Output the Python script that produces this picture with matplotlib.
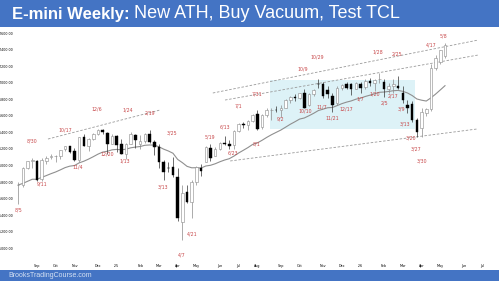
import matplotlib
matplotlib.use('Agg')
import matplotlib.pyplot as plt
import numpy as np
import pandas as pd

# ---------------- data (weekly E-mini, continuous contract) ----------------
start_week = '2024-08-05'
opens  = [5760,5760,5970,6055,6060,5840,6050,6100,6120,6120,6200,6230,6170,6070,6340,6240,6320,6380,6430,6395,
          6265,6355,6255,6145,6265,6365,6265,6295,6385,6285,6225,6045,5975,5985,5865,5315,5685,5555,5805,5965,
          6045,6215,6115,6195,6275,6265,6245,6415,6505,6495,6535,6625,6465,6605,6675,6675,6665,6700,6790,6830,
          6820,6880,6730,6860,6990,6990,6910,6840,6750,6940,6990,6980,6930,6990,6950,7020,7000,7040,7010,6920,
          6960,6960,6880,6730,6740,6550,6450,6640,6680,7180,7250,7320]
highs  = [5800,5980,6060,6090,6070,6090,6110,6140,6130,6190,6240,6240,6210,6350,6380,6330,6390,6440,6440,6405,
          6375,6365,6315,6275,6405,6375,6365,6395,6431,6305,6255,6065,6045,6105,5965,5765,5765,5825,5995,6015,
          6235,6255,6225,6285,6355,6305,6425,6515,6525,6555,6625,6675,6625,6700,6700,6715,6735,6800,6840,6860,
          6880,6930,6880,6920,7040,7010,6960,6880,6960,6990,7010,7000,7010,7010,7040,7060,7040,7120,7040,7000,
          7050,7080,6960,6790,6780,6580,6700,6700,7230,7330,7400,7480]
lows   = [5530,5740,5960,5970,5810,5810,6020,6080,6040,6080,6170,6150,6050,6040,6230,6180,6310,6370,6380,6135,
          6255,6165,6145,6075,6255,6215,6195,6275,6275,6125,5965,5825,5925,5865,5325,5097,5545,5365,5765,5875,
          6045,6055,6115,6185,6245,6205,6205,6405,6455,6435,6525,6425,6445,6590,6555,6645,6585,6690,6760,6780,
          6800,6690,6720,6840,6940,6820,6820,6650,6730,6910,6920,6850,6920,6880,6930,6960,6900,7000,6830,6880,
          6880,6920,6760,6640,6520,6350,6340,6600,6660,7150,7230,7300]
closes = [5760,5970,6050,6070,5830,6070,6090,6120,6120,6190,6230,6160,6070,6340,6240,6320,6380,6430,6400,6265,
          6355,6245,6145,6265,6375,6305,6295,6385,6285,6225,6045,5925,5965,5885,5365,5665,5565,5805,5985,5935,
          6225,6085,6195,6275,6265,6235,6415,6505,6495,6535,6615,6445,6605,6675,6675,6670,6695,6790,6830,6820,
          6870,6700,6860,6910,6980,6840,6860,6730,6940,6970,6940,6920,7000,6940,7020,7000,7030,7050,6920,6960,
          6990,6940,6790,6690,6550,6410,6650,6680,7180,7300,7390,7450]
ema_seed = 5765

y_ticks = [5000,5200,5400,5600,5800,6000,6200,6400,6600,6800,7000,7200,7400,7600]
month_labels = ['Sep','Oct','Nov','Dec',"'25",'Feb','Mar','Apr','May','Jun','Jul','Aug',
                'Sep','Oct','Nov','Dec',"'26",'Feb','Mar','Apr','May','Jun','Jul']
month_weeks = ['2024-09-02','2024-09-30','2024-10-28','2024-12-02','2024-12-30','2025-02-03',
               '2025-03-03','2025-03-31','2025-04-28','2025-06-02','2025-06-30','2025-07-28',
               '2025-09-01','2025-09-29','2025-11-03','2025-12-01','2025-12-29','2026-02-02',
               '2026-03-02','2026-03-30','2026-04-27','2026-06-01','2026-06-29']

# swing labels: text, week index, price
label_text  = ['8/5','8/30','9/11','10/17','11/4','12/6','12/20','1/13','1/24','2/19','3/13','3/25',
               '4/7','4/21','5/19','6/13','6/23','7/1','7/31','8/1','9/2','10/9','10/10','10/29',
               '11/7','11/21','12/17','1/7','1/20','1/28','2/5','2/17','2/25','3/9','3/13','3/20',
               '3/27','3/30','4/17','5/8']
label_week  = [0.0,2.9,5.1,10.0,12.8,16.8,18.9,22.8,23.4,28.1,30.9,32.8,
               34.9,37.1,40.9,44.1,45.8,46.9,50.9,50.9,56.0,60.7,61.2,63.7,
               64.8,66.9,70.0,72.9,76.1,76.7,78.0,79.9,80.8,81.8,82.5,83.8,
               84.8,86.1,88.0,90.6]
label_price = [5463,6296,5777,6429,5982,6683,6139,6055,6671,6634,5741,6393,
               4919,5173,6345,6465,6151,6719,6864,6260,6561,7165,6658,7310,
               6706,6574,6683,6803,6864,7371,6755,6840,7347,6683,6502,6332,
               6199,6055,7456,7565]

# dashed trend lines: (week0, price0, week1, price1)
trend_lines = [(6.35, 6320, 30.2, 6670),
               (41.5, 6876, 98.1, 7516),
               (44.1, 6791, 98.1, 7335),
               (45.2, 6055, 97.8, 6441)]
# trading range box: week0, week1, price_low, price_high
range_box = (53.7, 84.5, 6440, 7033)

# ---------------- figure ----------------
W, H = 499, 281
fig = plt.figure(figsize=(W/100, H/100), dpi=100)
fig.patch.set_facecolor('white')
blue = '#4474C4'

# banners
fig.patches.append(plt.Rectangle((0, 1-27/H), 1, 27/H, transform=fig.transFigure,
                                 facecolor=blue, edgecolor='none', zorder=0))
fig.patches.append(plt.Rectangle((0, 0), 1, 11/H, transform=fig.transFigure,
                                 facecolor=blue, edgecolor='none', zorder=0))

ax = fig.add_axes([16/W, (H-262)/H, (495-16)/W, (262-28)/H])
ax.set_facecolor('none')
for s in ax.spines.values():
    s.set_visible(False)

n = len(opens)
x = np.arange(n)
o = np.array(opens, float); h = np.array(highs, float)
l = np.array(lows, float); c = np.array(closes, float)

# trading range box
ax.add_patch(plt.Rectangle((range_box[0], range_box[2]), range_box[1]-range_box[0],
                           range_box[3]-range_box[2], facecolor='#DDF2F7', edgecolor='none', zorder=0))

# trend lines
for (x0, p0, x1, p1) in trend_lines:
    ax.plot([x0, x1], [p0, p1], ls=(0, (3, 2)), color='#9a9a9a', lw=0.6, zorder=1)

# EMA (20-week)
alpha = 2/21
ema = []
e = ema_seed
for v in c:
    e = alpha*v + (1-alpha)*e
    ema.append(e)
ax.plot(x, ema, color='#8f8f8f', lw=0.8, zorder=2)

# candles
bull = c >= o
bw = 0.55
ax.vlines(x[bull], l[bull], h[bull], color='#8a8a8a', lw=0.5, zorder=3)
ax.vlines(x[~bull], l[~bull], h[~bull], color='#333333', lw=0.5, zorder=3)
ax.bar(x[bull], c[bull]-o[bull], bw, bottom=o[bull], color='white', edgecolor='#8a8a8a',
       lw=0.4, zorder=4)
ax.bar(x[~bull], o[~bull]-c[~bull], bw, bottom=c[~bull], color='black', edgecolor='black',
       lw=0.3, zorder=4)

# swing labels
for t, wk, pr in zip(label_text, label_week, label_price):
    ax.text(wk, pr, t, color='#C8494B', fontsize=3.4, ha='center', va='center', zorder=5)

ax.set_xlim(-0.47, 101.66)
ax.set_ylim(4834.5, 7661.2)
ax.set_yticks(y_ticks)
ax.set_yticklabels([f'{v:,.2f}' for v in y_ticks], fontsize=2.3)
t0 = pd.Timestamp(start_week)
mpos = [(pd.Timestamp(d) - t0).days/7 for d in month_weeks]
ax.set_xticks(mpos)
ax.set_xticklabels(month_labels, fontsize=2.4)
ax.tick_params(axis='both', length=0, pad=1.5)

# title
tt = fig.text(12/W, 1-14/H, 'E-mini Weekly:', color='white', fontsize=12, fontweight='bold',
              family='Liberation Sans', va='center', ha='left')
fig.canvas.draw()
bb = tt.get_window_extent()
fig.text((bb.x1 + 4)/W, 1-14/H, 'New ATH, Buy Vacuum, Test TCL', color='white', fontsize=13,
         family='Liberation Sans', va='center', ha='left')
fig.text(8/W, 5.5/H, 'BrooksTradingCourse.com', color='#D6E2F3', fontsize=5,
         family='Liberation Sans', va='center', ha='left')

fig.savefig('out.png', dpi=100)
